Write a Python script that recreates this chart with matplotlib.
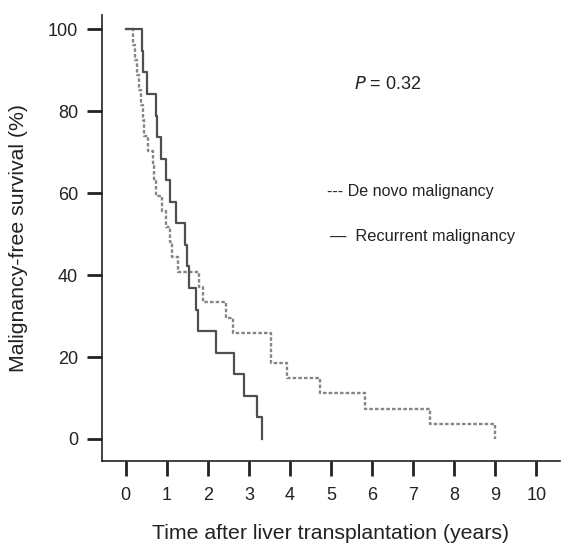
import numpy as np
import matplotlib
matplotlib.use('Agg')
from matplotlib import pyplot as plt

plt.rcParams['font.family'] = ['Liberation Sans', 'DejaVu Sans']

# event times (years)
recurrent_times = [0.39, 0.42, 0.51, 0.73, 0.77, 0.87, 0.97, 1.08, 1.22, 1.44,
                   1.50, 1.54, 1.70, 1.76, 2.21, 2.64, 2.88, 3.19, 3.33]
denovo_times = [0.18, 0.22, 0.27, 0.33, 0.38, 0.42, 0.45, 0.55, 0.66, 0.70,
                0.74, 0.89, 0.97, 1.09, 1.12, 1.27, 1.78, 1.87, 2.45, 2.61,
                3.53, 3.53, 3.93, 4.73, 5.82, 7.42, 9.00]
xticks = list(range(0, 11))
yticks = [0, 20, 40, 60, 80, 100]


def km_steps(times):
    n = len(times)
    t = [0.0]
    s = [100.0]
    for i, ti in enumerate(times):
        t.append(ti)
        s.append(100.0 * (n - i - 1) / n)
    return np.array(t), np.array(s)


fig = plt.figure(figsize=(5.64, 5.5), dpi=100)
ax = fig.add_axes([0.1800, 0.1624, 0.8130, 0.8103])

t, s = km_steps(denovo_times)
ax.step(t, s, where='post', color='#858585', lw=1.7, linestyle=(0, (1.5, 0.9)))
t, s = km_steps(recurrent_times)
ax.step(t, s, where='post', color='#4f4f4f', lw=1.6)

ax.set_xlim(-0.59, 10.58)
ax.set_ylim(-5.3, 103.5)
ax.set_xticks(xticks)
ax.set_yticks(yticks)
for side in ['top', 'right']:
    ax.spines[side].set_visible(False)
for side in ['left', 'bottom']:
    ax.spines[side].set_linewidth(1.2)
    ax.spines[side].set_color('#222222')
ax.tick_params(axis='both', direction='out', length=11, width=2.0,
               color='#222222', labelsize=13, labelcolor='#222222')
ax.tick_params(axis='x', pad=8)
ax.tick_params(axis='y', pad=6)

ax.set_xlabel('Time after liver transplantation (years)', fontsize=15.3,
              color='#222222', labelpad=14)
ax.set_ylabel('Malignancy-free survival (%)', fontsize=15.3,
              color='#222222', labelpad=14)

ax.text(6.38, 86.6, r'$P$ = 0.32', fontsize=13, color='#222222',
        ha='center', va='center')
ax.text(4.91, 60.4, '--- De novo malignancy', fontsize=11.6, color='#222222',
        va='center')
ax.text(4.97, 49.4, '\u2014  Recurrent malignancy', fontsize=11.8,
        color='#222222', va='center')

fig.savefig('out.png', dpi=100)
